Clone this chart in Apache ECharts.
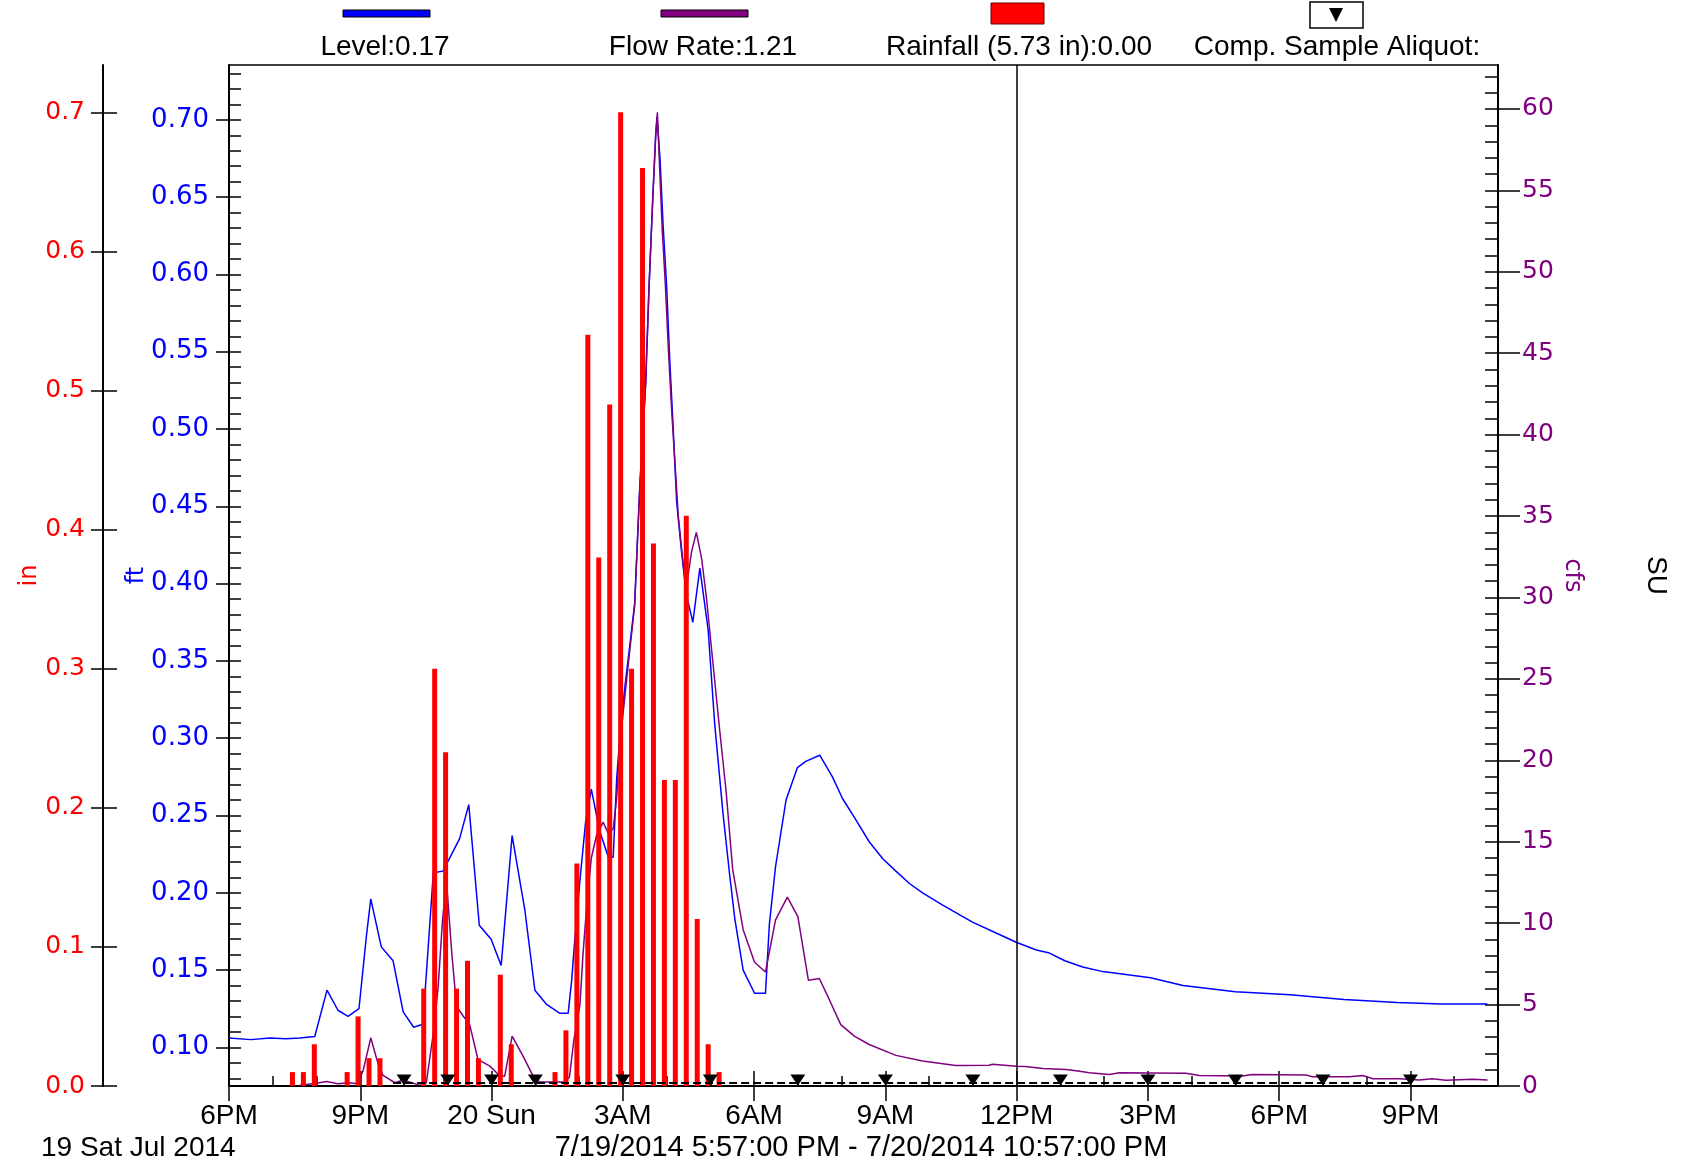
<!DOCTYPE html>
<html>
<head>
<meta charset="utf-8">
<script src="https://cdn.jsdelivr.net/npm/echarts@6/dist/echarts.min.js"></script>
<style>
html, body { margin: 0; padding: 0; background: #fff; }
#chart { width: 1686px; height: 1167px; }
</style>
</head>
<body>
<div id="chart"></div>
<script>
// all times are hours after 6PM, Sat 7/19/2014
var hourTicks = [0, 3, 6, 9, 12, 15, 18, 21, 24, 27];
var hourTickLabels = ['6PM', '9PM', '20 Sun', '3AM', '6AM', '9AM', '12PM', '3PM', '6PM', '9PM'];
var ftTicks = [0.10, 0.15, 0.20, 0.25, 0.30, 0.35, 0.40, 0.45, 0.50, 0.55, 0.60, 0.65, 0.70];
var inTicks = [0, 0.1, 0.2, 0.3, 0.4, 0.5, 0.6, 0.7];
var cfsTicks = [0, 5, 10, 15, 20, 25, 30, 35, 40, 45, 50, 55, 60];

// Level (ft)
var levelTimes = [0, 0.5, 0.94, 1.3, 1.62, 1.96, 2.24, 2.49, 2.72, 2.97, 3.14, 3.24, 3.48, 3.75, 3.98,
    4.22, 4.43, 4.57, 4.67, 4.89, 5.27, 5.48, 5.72, 5.99, 6.22, 6.47, 6.76, 6.99, 7.25, 7.56, 7.75,
    7.83, 7.9, 8.02, 8.15, 8.28, 8.47, 8.67, 8.78, 8.86, 8.93, 9.05, 9.16, 9.27, 9.39, 9.52, 9.6,
    9.68, 9.75, 9.78, 9.85, 9.92, 10, 10.07, 10.15, 10.23, 10.34, 10.45, 10.6, 10.76, 10.95, 11.1,
    11.29, 11.44, 11.56, 11.75, 12.01, 12.26, 12.35, 12.49, 12.73, 12.99, 13.18, 13.5, 13.79, 14.02,
    14.33, 14.63, 14.94, 15.24, 15.55, 15.85, 16.31, 16.99, 17.53, 17.99, 18.45, 18.75, 19.1, 19.51,
    19.97, 21.06, 21.8, 23, 24.25, 25.48, 26.7, 27.7, 28.76];
var levelValues = [0.106, 0.105, 0.106, 0.1055, 0.106, 0.107, 0.137, 0.124, 0.12, 0.125, 0.172, 0.196, 0.165, 0.156, 0.123,
    0.113, 0.115, 0.172, 0.213, 0.214, 0.235, 0.257, 0.179, 0.17, 0.153, 0.237, 0.189, 0.137, 0.128, 0.122, 0.122,
    0.143, 0.169, 0.208, 0.246, 0.267, 0.24, 0.223, 0.223, 0.274, 0.3, 0.334, 0.36, 0.387, 0.464, 0.529, 0.593,
    0.647, 0.69, 0.702, 0.675, 0.632, 0.593, 0.546, 0.501, 0.453, 0.421, 0.393, 0.375, 0.41, 0.37, 0.309,
    0.251, 0.212, 0.183, 0.15, 0.135, 0.135, 0.18, 0.217, 0.26, 0.281, 0.285, 0.289, 0.275, 0.261,
    0.247, 0.233, 0.222, 0.214, 0.206, 0.2, 0.192, 0.181, 0.174, 0.168, 0.163, 0.161, 0.156, 0.152,
    0.149, 0.145, 0.14, 0.136, 0.134, 0.131, 0.129, 0.128, 0.128];

// Flow Rate (cfs)
var flowTimes = [1.62, 1.96, 2.23, 2.49, 2.75, 2.95, 3.07, 3.24, 3.41, 3.52, 3.79, 3.98, 4.29, 4.51, 4.67,
    4.78, 4.88, 4.97, 5.09, 5.2, 5.35, 5.5, 5.69, 5.96, 6.18, 6.3, 6.47, 6.72, 6.95, 7.1, 7.68, 7.78,
    7.88, 8.02, 8.09, 8.17, 8.28, 8.4, 8.55, 8.67, 8.78, 8.86, 8.93, 9.05, 9.16, 9.27, 9.39, 9.52,
    9.6, 9.68, 9.75, 9.79, 9.85, 9.9, 9.97, 10.04, 10.12, 10.2, 10.27, 10.39, 10.46, 10.57, 10.68,
    10.8, 10.91, 11.2, 11.36, 11.51, 11.75, 12.01, 12.26, 12.49, 12.76, 13, 13.24, 13.49, 13.72,
    13.98, 14.29, 14.63, 15.24, 15.85, 16.61, 17.37, 17.45, 17.99, 18.2, 18.6, 19.13, 19.4, 19.66,
    20.12, 20.35, 21.87, 22.17, 23.16, 23.39, 24.61, 24.76, 25.6, 25.91, 26.14, 26.75, 27.2, 27.5,
    27.81, 28.42, 28.76];
var flowValues = [0.05, 0.15, 0.27, 0.14, 0.2, 0.14, 1.0, 2.96, 1.33, 0.65, 0.2, 0.37, 0.1, 0.2, 3.26,
    6.1, 10.2, 12.6, 8.2, 4.9, 4.3, 3.77, 1.63, 1.22, 0.65, 0.6, 3.06, 1.83, 0.61, 0.24, 0.24, 0.55,
    2.8, 5.0, 8.1, 10.9, 14.0, 15.4, 16.2, 15.5, 15.8, 17.7, 20.9, 24.0, 26.8, 29.5, 36.9, 43.0,
    49.1, 54.2, 58.3, 59.8, 55.8, 52.6, 49.3, 45.3, 41.3, 37.9, 34.9, 31.8, 30.8, 32.8, 34.0,
    32.4, 30.0, 22.2, 18.1, 13.3, 9.6, 7.6, 7.0, 10.2, 11.6, 10.4, 6.5, 6.6, 5.3,
    3.77, 3.06, 2.55, 1.88, 1.53, 1.26, 1.28, 1.33, 1.22, 1.2, 1.08, 1.02, 0.92, 0.82,
    0.71, 0.82, 0.78, 0.65, 0.61, 0.71, 0.67, 0.57, 0.57, 0.65, 0.45, 0.45, 0.37, 0.45,
    0.35, 0.41, 0.37];

// Rainfall (in), 15-minute totals
var rainTimes = [1.45, 1.7, 1.95, 2.7, 2.95, 3.2, 3.45, 4.45, 4.7, 4.95, 5.2, 5.45, 5.7, 6.2, 6.45,
    7.45, 7.7, 7.95, 8.2, 8.45, 8.7, 8.95, 9.2, 9.45, 9.7, 9.95, 10.2, 10.45, 10.7, 10.95, 11.2];
var rainValues = [0.01, 0.01, 0.03, 0.01, 0.05, 0.02, 0.02, 0.07, 0.30, 0.24, 0.07, 0.09, 0.02, 0.08, 0.03,
    0.01, 0.04, 0.16, 0.54, 0.38, 0.49, 0.70, 0.30, 0.66, 0.39, 0.22, 0.22, 0.41, 0.12, 0.03, 0.01];

// Comp. Sample Aliquot events
var aliquotStart = 3.75;
var aliquotTimes = [4, 5, 6, 7, 9, 11, 13, 15, 17, 19, 21, 23, 25, 27];

var cursorTime = 18;

function zip(xs, ys) {
    return xs.map(function (x, i) { return [x, ys[i]]; });
}

function range(a, b, step, digits) {
    var out = [];
    for (var v = a; v <= b + step / 2; v += step) {
        out.push(+v.toFixed(digits));
    }
    return out;
}

var allHours = range(1, 28, 1, 0);
var ftMinor = range(0.08, 0.73, 0.01, 2);
var cfsMinor = range(0, 62, 1, 0);

var aliquotData = [{ value: [aliquotStart, 0], symbol: 'none' }];
aliquotTimes.forEach(function (t) { aliquotData.push([t, 0]); });

var yFont = 'DejaVu Sans';
var xFont = 'Liberation Sans';

function label(text, x, y, size, align) {
    return {
        type: 'text', x: x, y: y,
        style: {
            text: text, fontSize: size, fontFamily: xFont, fill: '#000',
            align: align, verticalAlign: 'middle', textAlign: align, textVerticalAlign: 'middle'
        }
    };
}

var myChart = echarts.init(document.getElementById('chart'));

var option = {
    animation: false,
    backgroundColor: '#fff',
    grid: {
        left: 229,
        right: 188,
        top: 65,
        bottom: 81,
        show: true,
        borderColor: '#000',
        borderWidth: 1.5,
        backgroundColor: 'transparent'
    },
    xAxis: [
        {
            type: 'value',
            position: 'bottom',
            min: 0,
            max: 29,
            axisLine: { onZero: false, lineStyle: { color: '#000', width: 2 } },
            axisTick: { length: 15, customValues: hourTicks, lineStyle: { color: '#000', width: 1.5 } },
            axisLabel: {
                customValues: hourTicks,
                color: '#000',
                fontFamily: xFont,
                fontSize: 28,
                margin: 16,
                formatter: function (v) {
                    var i = hourTicks.indexOf(v);
                    return i >= 0 ? hourTickLabels[i] : '';
                }
            },
            splitLine: { show: false }
        },
        {
            // hourly ticks inside the plot
            type: 'value',
            position: 'bottom',
            min: 0,
            max: 29,
            axisLine: { show: false, onZero: false },
            axisTick: { inside: true, length: 10, customValues: allHours, lineStyle: { color: '#000', width: 1.5 } },
            axisLabel: { show: false },
            splitLine: { show: false }
        },
        {
            type: 'value',
            position: 'bottom',
            min: 0,
            max: 29,
            axisLine: { show: false, onZero: false },
            axisTick: { inside: true, length: 15, customValues: hourTicks, lineStyle: { color: '#000', width: 1.5 } },
            axisLabel: { show: false },
            splitLine: { show: false }
        }
    ],
    yAxis: [
        {
            // 0: level, ft
            type: 'value',
            position: 'left',
            min: 0.075,
            max: 0.7355,
            name: 'ft',
            nameLocation: 'middle',
            nameRotate: 90,
            nameGap: 80,
            nameMoveOverlap: false,
            nameTextStyle: { color: '#0000ff', fontFamily: yFont, fontSize: 24 },
            axisLine: { show: true, onZero: false, lineStyle: { color: '#000', width: 2 } },
            axisTick: { show: true, length: 13, customValues: ftTicks, lineStyle: { color: '#000', width: 1.5 } },
            axisLabel: {
                customValues: ftTicks,
                color: '#0000ff',
                fontFamily: yFont,
                fontSize: 26,
                margin: 20,
                formatter: function (v) { return v.toFixed(2); }
            },
            splitLine: { show: false }
        },
        {
            // 1: ft minor ticks inside
            type: 'value',
            position: 'left',
            min: 0.075,
            max: 0.7355,
            axisLine: { show: false, onZero: false },
            axisTick: { show: true, inside: true, length: 12, customValues: ftMinor, lineStyle: { color: '#000', width: 1.5 } },
            axisLabel: { show: false },
            splitLine: { show: false }
        },
        {
            // 2: rainfall, in
            type: 'value',
            position: 'left',
            offset: 126,
            min: 0,
            max: 0.734,
            name: 'in',
            nameLocation: 'middle',
            nameRotate: 90,
            nameGap: 61,
            nameMoveOverlap: false,
            nameTextStyle: { color: '#ff0000', fontFamily: yFont, fontSize: 24 },
            axisLine: { show: true, onZero: false, lineStyle: { color: '#000', width: 2 } },
            axisTick: { show: true, length: 12, customValues: inTicks, lineStyle: { color: '#000', width: 1.5 } },
            axisLabel: {
                customValues: inTicks,
                color: '#ff0000',
                fontFamily: yFont,
                fontSize: 25,
                margin: 18,
                formatter: function (v) { return v.toFixed(1); }
            },
            splitLine: { show: false }
        },
        {
            // 3: rainfall ticks crossing inward
            type: 'value',
            position: 'left',
            offset: 126,
            min: 0,
            max: 0.734,
            axisLine: { show: false, onZero: false },
            axisTick: { show: true, inside: true, length: 14, customValues: inTicks, lineStyle: { color: '#000', width: 1.5 } },
            axisLabel: { show: false },
            splitLine: { show: false }
        },
        {
            // 4: flow rate, cfs
            type: 'value',
            position: 'right',
            min: 0,
            max: 62.7,
            name: 'cfs',
            nameLocation: 'middle',
            nameRotate: -90,
            nameGap: 62,
            nameMoveOverlap: false,
            nameTextStyle: { color: '#800080', fontFamily: yFont, fontSize: 24 },
            axisLine: { show: true, onZero: false, lineStyle: { color: '#000', width: 2 } },
            axisTick: { show: true, length: 22, customValues: cfsTicks, lineStyle: { color: '#000', width: 1.5 } },
            axisLabel: {
                customValues: cfsTicks,
                color: '#800080',
                fontFamily: yFont,
                fontSize: 25,
                margin: 24
            },
            splitLine: { show: false }
        },
        {
            // 5: cfs minor ticks inside
            type: 'value',
            position: 'right',
            min: 0,
            max: 62.7,
            axisLine: { show: false, onZero: false },
            axisTick: { show: true, inside: true, length: 13, customValues: cfsMinor, lineStyle: { color: '#000', width: 1.5 } },
            axisLabel: { show: false },
            splitLine: { show: false }
        },
        {
            // 6: sampler, SU
            type: 'value',
            position: 'right',
            min: -0.003,
            max: 1,
            name: 'SU',
            nameLocation: 'middle',
            nameRotate: -90,
            nameGap: 144,
            nameMoveOverlap: false,
            nameTextStyle: { color: '#000', fontFamily: xFont, fontSize: 28 },
            axisLine: { show: false, onZero: false },
            axisTick: { show: false },
            axisLabel: { show: false },
            splitLine: { show: false }
        }
    ],
    series: [
        {
            name: 'Level',
            type: 'line',
            yAxisIndex: 0,
            data: zip(levelTimes, levelValues),
            symbol: 'none',
            lineStyle: { color: '#0000ff', width: 1.5 },
            z: 2,
            markLine: {
                silent: true,
                symbol: ['none', 'none'],
                label: { show: false },
                lineStyle: { color: '#000', width: 1.5, type: 'solid' },
                data: [{ xAxis: cursorTime }]
            }
        },
        {
            name: 'Flow Rate',
            type: 'line',
            yAxisIndex: 4,
            data: zip(flowTimes, flowValues),
            symbol: 'none',
            lineStyle: { color: '#800080', width: 1.5 },
            z: 2
        },
        {
            name: 'Rainfall',
            type: 'bar',
            yAxisIndex: 2,
            data: zip(rainTimes, rainValues),
            barWidth: 5,
            itemStyle: { color: '#ff0000' },
            z: 3
        },
        {
            name: 'Comp. Sample Aliquot',
            type: 'line',
            yAxisIndex: 6,
            data: aliquotData,
            symbol: 'triangle',
            symbolRotate: 180,
            symbolSize: [15, 11],
            symbolOffset: [0, -3],
            itemStyle: { color: '#000' },
            lineStyle: { color: '#000', width: 2, type: [8, 4] },
            z: 4
        }
    ],
    graphic: [
        { type: 'rect', shape: { x: 343, y: 10, width: 87, height: 7 }, style: { fill: '#0000ff', stroke: '#000', lineWidth: 1 } },
        { type: 'rect', shape: { x: 661, y: 10, width: 87, height: 7 }, style: { fill: '#800080', stroke: '#000', lineWidth: 1 } },
        { type: 'rect', shape: { x: 991, y: 3, width: 53, height: 21 }, style: { fill: '#ff0000', stroke: '#600', lineWidth: 1 } },
        { type: 'rect', shape: { x: 1310, y: 2, width: 53, height: 26 }, style: { fill: '#fff', stroke: '#000', lineWidth: 1.5 } },
        { type: 'polygon', shape: { points: [[1329, 8], [1343, 8], [1336, 22]] }, style: { fill: '#000' } },
        label('Level:0.17', 385, 47, 28, 'center'),
        label('Flow Rate:1.21', 703, 47, 28, 'center'),
        label('Rainfall (5.73 in):0.00', 1019, 47, 28, 'center'),
        label('Comp. Sample Aliquot:', 1337, 47, 28, 'center'),
        label('19 Sat Jul 2014', 41, 1148, 28, 'left'),
        label('7/19/2014 5:57:00 PM - 7/20/2014 10:57:00 PM', 861, 1148, 29, 'center')
    ]
};

myChart.setOption(option);
</script>
</body>
</html>
